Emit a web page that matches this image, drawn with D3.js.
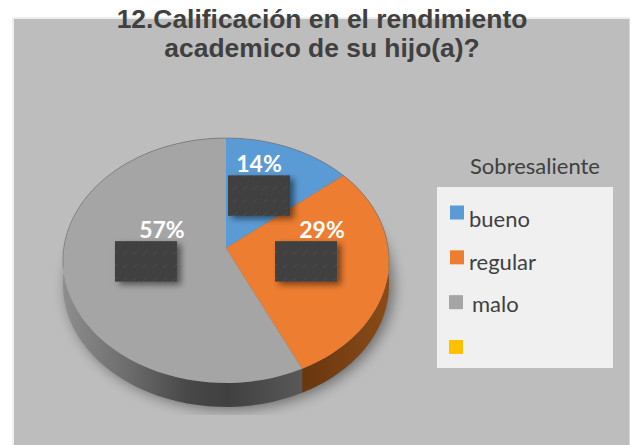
<!DOCTYPE html>
<html>
<head>
<meta charset="utf-8">
<script src="https://cdn.jsdelivr.net/npm/d3@7/dist/d3.min.js"></script>
<style>html,body{margin:0;padding:0;background:#fff}svg{display:block}</style>
</head>
<body>
<svg id="c" width="632" height="445"></svg>
<script>
const titleLines = ["12.Calificación en el rendimiento", "academico de su hijo(a)?"];
const legendTitle = "Sobresaliente";
const categories = ["bueno", "regular", "malo", ""];
const values = [14, 29, 57, 0];
const colors = ["#5b9bd5", "#ed7d31", "#a5a5a5", "#ffc000"];

const svg = d3.select("#c");
const defs = svg.append("defs");
const W = 632, H = 445;

svg.append("rect").attr("x", 14).attr("y", 19).attr("width", W - 17).attr("height", H - 19).attr("fill", "#bdbdbd");
svg.append("rect").attr("x", 12).attr("y", 18).attr("width", 2).attr("height", H - 18).attr("fill", "#f0f0f0");
svg.append("rect").attr("x", 12).attr("y", 17).attr("width", W - 15).attr("height", 2).attr("fill", "#eeeeee");
svg.append("rect").attr("x", 629).attr("y", 18).attr("width", 1).attr("height", H - 18).attr("fill", "#d8d8d8");

// perspective projection of the pie disc
const cx = 226, cy = 248, B = 162.2, A = 121.2, k = -0.102, depth = 24;
const project = (r, a) => {
  const u = r * Math.sin(a), v = -r * Math.cos(a), d = 1 + k * v;
  return [cx + B * u / d, cy + A * v / d];
};
const pie = d3.pie().sort(null).value(d => d)(values);
const arcPts = (a0, a1) => d3.range(0, 61).map(i => project(1, a0 + (a1 - a0) * i / 60));
const line = d3.line();

// filters
const blur = defs.append("filter").attr("id", "soft").attr("x", "-20%").attr("y", "-20%").attr("width", "140%").attr("height", "140%");
blur.append("feGaussianBlur").attr("stdDeviation", 7);
const sh = defs.append("filter").attr("id", "boxShadow").attr("x", "-20%").attr("y", "-20%").attr("width", "150%").attr("height", "150%");
sh.append("feDropShadow").attr("dx", 4).attr("dy", 3).attr("stdDeviation", 3).attr("flood-color", "#000").attr("flood-opacity", 0.5);
defs.append("clipPath").attr("id", "shClip").append("rect").attr("x", 0).attr("y", 0).attr("width", W).attr("height", 415);

const grad = (id, stops) => {
  const g = defs.append("linearGradient").attr("id", id).attr("gradientUnits", "userSpaceOnUse")
    .attr("x1", 63).attr("x2", 390).attr("y1", 0).attr("y2", 0);
  stops.forEach(s => g.append("stop").attr("offset", s[0]).attr("stop-color", s[1]));
};
grad("side0", [[0, "#2f5f8c"], [1, "#2f5f8c"]]);
grad("side1", [[0, "#6b3710"], [0.75, "#6b3710"], [1, "#8a4c18"]]);
grad("side2", [[0, "#8e8e8e"], [0.2, "#6c6c6c"], [0.38, "#484848"], [0.5, "#404040"], [0.75, "#5a5a5a"], [1, "#666"]]);

const pat = defs.append("pattern").attr("id", "boxPat").attr("patternUnits", "userSpaceOnUse")
  .attr("width", 10).attr("height", 13);
pat.append("rect").attr("width", 10).attr("height", 13).attr("fill", "#404040");
pat.append("path").attr("d", "M3 8L7 4").attr("stroke", "#5a5a5a").attr("stroke-width", 1).attr("opacity", 0.6);

const whole = arcPts(0, 2 * Math.PI);

// ground shadow
svg.append("g").attr("clip-path", "url(#shClip)")
  .append("path")
  .attr("d", line(whole.map(p => [p[0] + 4, p[1] + depth + 2])) + "Z")
  .attr("fill", "#000").attr("opacity", 0.45).attr("filter", "url(#soft)");

// sides
svg.append("g").selectAll("path").data(pie.slice(0, 3)).join("path")
  .attr("d", d => {
    const top = arcPts(d.startAngle, d.endAngle);
    const bot = top.map(p => [p[0], p[1] + depth]).reverse();
    return line(top.concat(bot)) + "Z";
  })
  .attr("fill", (d, i) => `url(#side${i})`);

// top faces
svg.append("g").selectAll("path").data(pie.slice(0, 3)).join("path")
  .attr("d", d => line([[cx, cy]].concat(arcPts(d.startAngle, d.endAngle))) + "Z")
  .attr("fill", (d, i) => colors[i]);
svg.append("path").attr("d", line(arcPts(-Math.PI * 0.55, Math.PI * 0.55)))
  .attr("fill", "none").attr("stroke", "#777").attr("stroke-width", 0.7);

// data labels with dark boxes
const bw = 62, bh = 40.5;
const centers = pie.slice(0, 3).map(d => project(0.5, (d.startAngle + d.endAngle) / 2));
svg.append("g").selectAll("rect").data(centers).join("rect")
  .attr("x", d => d[0] - bw / 2).attr("y", d => d[1] - bh / 2)
  .attr("width", bw).attr("height", bh)
  .attr("fill", "url(#boxPat)").attr("filter", "url(#boxShadow)");
svg.append("g").selectAll("text").data(pie.slice(0, 3)).join("text")
  .attr("x", (d, i) => centers[i][0] + (i === 0 ? 0 : 16))
  .attr("y", (d, i) => centers[i][1] - 23.5)
  .attr("text-anchor", "middle")
  .attr("font-family", "Lato, 'Open Sans', sans-serif").attr("font-weight", 700)
  .attr("font-size", 23).attr("fill", "#fff")
  .text(d => d.value + "%");

// title
svg.append("g").selectAll("text").data(titleLines).join("text")
  .attr("x", 322).attr("y", (d, i) => 28 + i * 29)
  .attr("text-anchor", "middle")
  .attr("font-family", "'Liberation Sans', Arial, sans-serif").attr("font-weight", 700)
  .attr("font-size", 26.4).attr("fill", "#404040")
  .text(d => d);

// legend
svg.append("rect").attr("x", 437).attr("y", 187).attr("width", 176).attr("height", 181).attr("fill", "#f0f0f0");
svg.append("text").attr("x", 470).attr("y", 174)
  .attr("font-family", "Lato, sans-serif").attr("font-size", 22).attr("fill", "#404040").text(legendTitle);
const ly = d3.scalePoint().domain(d3.range(categories.length)).range([212.5, 347]);
const lg = svg.append("g").selectAll("g").data(categories).join("g");
lg.append("rect").attr("x", (d, i) => i < 2 ? 450 : 449).attr("y", (d, i) => ly(i) - 7)
  .attr("width", 14).attr("height", 14).attr("fill", (d, i) => colors[i]);
lg.append("text").attr("x", (d, i) => i === 2 ? 472 : 469).attr("y", (d, i) => ly(i) + 14.5 - i * 2.3)
  .attr("font-family", "Lato, sans-serif").attr("font-size", 22).attr("fill", "#404040").text(d => d);
</script>
</body>
</html>
